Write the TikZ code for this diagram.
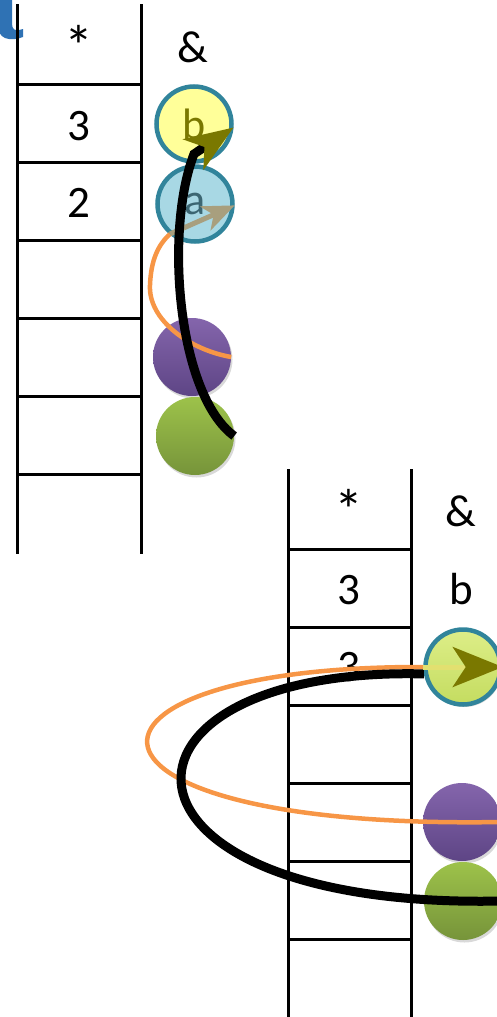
\documentclass[tikz,border=0pt]{standalone}
\usepackage{fontspec}
\setmainfont{Carlito}
\usetikzlibrary{arrows.meta,shadows}
\definecolor{tealb}{HTML}{31849B}
\definecolor{ylw}{HTML}{FFFF99}
\definecolor{lblue}{HTML}{A8D8E4}
\definecolor{purtop}{HTML}{8465AC}
\definecolor{purbot}{HTML}{5E4585}
\definecolor{grntop}{HTML}{9DC24A}
\definecolor{grnbot}{HTML}{76943A}
\definecolor{ygtop}{HTML}{DDEE88}
\definecolor{ygbot}{HTML}{C4DC60}
\definecolor{olivet}{HTML}{7A7800}
\definecolor{tanc}{HTML}{A89F7E}
\definecolor{orangec}{HTML}{F79646}
\definecolor{shaftc}{HTML}{E2E070}
\definecolor{titleblue}{HTML}{2F72B4}
\definecolor{atext}{HTML}{3C6672}
\begin{document}
\begin{tikzpicture}[x=1pt,y=-1pt,
  tline/.style={line width=3pt, line cap=rect},
  lbl/.style={font=\fontsize{45}{50}\selectfont, anchor=base, inner sep=0pt},
  star/.style={font=\fontsize{58}{60}\selectfont, anchor=base, inner sep=0pt},
  ball/.style={circle, minimum size=78pt, inner sep=0pt, font=\fontsize{44}{50}\selectfont},
  ringball/.style={ball, minimum size=75pt, draw=tealb, line width=4.5pt},
  shadedball/.style={ball, drop shadow={opacity=0.3, shadow xshift=1.5pt, shadow yshift=-2.5pt}},
  blackcurve/.style={line width=9pt, black},
  orangecurve/.style={line width=4.5pt, orangec},
]
\useasboundingbox (0,0) rectangle (497,1017);

% fragment of blue title letter
\fill[titleblue] (-2,0) -- (12,0) -- (12,24) .. controls (12,29) and (15,31) .. (19,30)
  -- (23,29) -- (23,37) .. controls (17,39.5) and (10,40) .. (5,38)
  .. controls (0,36) and (-2,31) .. (-2,25) -- cycle;

% top table
\draw[tline] (17,5) -- (17,552);
\draw[tline] (141,5) -- (141,552);
\foreach \yy in {84,162,240,318,396,474} \draw[tline] (17,\yy) -- (141,\yy);
\node[star] (ts) at (79,66) {*};
\node[lbl] (ta) at (193,62) {\&};
\node[lbl] (t3) at (79,140) {3};
\node[lbl] (t2) at (79,217) {2};

% bottom table
\draw[tline] (288,470) -- (288,1020);
\draw[tline] (411,470) -- (411,1020);
\foreach \yy in {549,627,705,783,861,939} \draw[tline] (288,\yy) -- (411,\yy);
\node[star] (bs) at (349,530) {*};
\node[lbl] (ba) at (461,526) {\&};
\node[lbl] (b3) at (349,604) {3};
\node[lbl] (bb) at (461,604) {b};
\node[lbl] (b3b) at (349,681) {3};

% top circles
\node[ringball, fill=ylw, text=olivet] (y1) at (194,124) {b};
\node[ringball, fill=lblue, text=atext] (a1) at (195,204) {a};
\node[shadedball, top color=purtop, bottom color=purbot] (p1) at (192,357) {};
\node[shadedball, top color=grntop, bottom color=grnbot] (g1) at (195,436) {};

% bottom circles
\node[ringball, top color=ygtop, bottom color=ygbot,
  drop shadow={opacity=0.3, shadow xshift=1.5pt, shadow yshift=-2.5pt}] (c2) at (463,667) {};
\node[shadedball, top color=purtop, bottom color=purbot] (p2) at (462,822) {};
\node[shadedball, top color=grntop, bottom color=grnbot] (g2) at (463,901) {};

% top connectors
\coordinate (ot) at (170,234);
\draw[orangecurve] (p1.east) .. controls (190,350) and (148,320) .. (150,285)
  .. controls (151,260) and (158,245) .. (ot);
\draw[line width=5pt, tanc, -{Stealth[length=32pt, width=26pt, inset=9pt]}] (ot) -- (a1.-2);
\coordinate (bt) at (194,154);
\draw[blackcurve, -{Stealth[length=48pt, width=36pt, inset=13pt, olivet]}]
  (g1.east) .. controls (178,395) and (164,232) .. (bt) -- (y1.-5);

% bottom connectors
\draw[orangecurve] (p2.east) .. controls (43,830) and (43,666) .. (c2.west);
\draw[blackcurve] (g2.east) .. controls (88,910) and (88,666) .. (c2.190);
\draw[line width=5pt, shaftc, -{Stealth[length=50pt, width=40pt, inset=13pt, olivet]}] (c2.west) -- (c2.east);
\end{tikzpicture}
\end{document}
